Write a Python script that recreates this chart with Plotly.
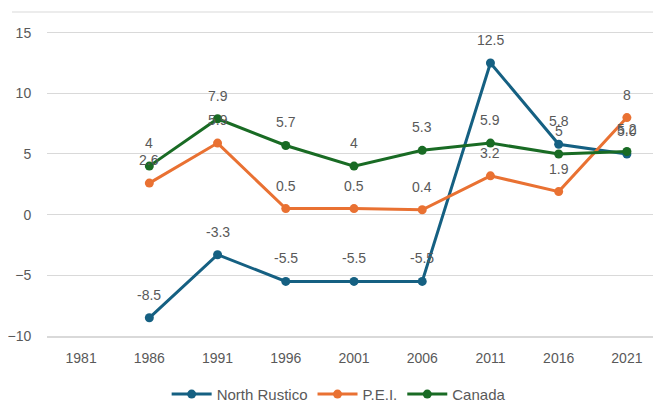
import plotly.graph_objects as go

years = ["1981", "1986", "1991", "1996", "2001", "2006", "2011", "2016", "2021"]
north_rustico = [None, -8.5, -3.3, -5.5, -5.5, -5.5, 12.5, 5.8, 5.0]
pei = [None, 2.6, 5.9, 0.5, 0.5, 0.4, 3.2, 1.9, 8]
canada = [None, 4, 7.9, 5.7, 4, 5.3, 5.9, 5, 5.2]
y_ticks = [-10, -5, 0, 5, 10, 15]

series = [
    ("North Rustico", north_rustico, "#156082", "{:.1f}"),
    ("P.E.I.", pei, "#E97132", "{:g}"),
    ("Canada", canada, "#196B24", "{:g}"),
]

FONT = "Liberation Sans"
GRAY = "#595959"
GRID = "#d9d9d9"

fig = go.Figure()
annotations = []
for name, vals, color, fmt in series:
    fig.add_trace(go.Scatter(
        x=years, y=vals, name=name, mode="lines+markers",
        line=dict(color=color, width=3),
        marker=dict(color=color, size=9),
        connectgaps=False,
    ))
    for i, v in enumerate(vals):
        if v is None:
            continue
        annotations.append(dict(
            x=i, y=v, xref="x", yref="y", text=fmt.format(v),
            showarrow=False, yshift=23,
            font=dict(family=FONT, size=14, color=GRAY),
        ))

# page body adds an 8px offset; figure sized so marks land at the reference's pixels
fig.update_layout(
    width=653, height=410,
    margin=dict(l=39, r=0, t=4, b=82, autoexpand=False),
    paper_bgcolor="white", plot_bgcolor="white",
    font=dict(family=FONT, size=14, color=GRAY),
    showlegend=True,
    legend=dict(orientation="h", x=0.475, xanchor="center", y=-0.18, yanchor="middle",
                itemwidth=40,
                font=dict(family=FONT, size=15, color=GRAY)),
    annotations=annotations,
    shapes=[dict(type="line", xref="paper", yref="paper", x0=-0.057, x1=1, y0=1, y1=1,
                 line=dict(color=GRID, width=1))],
)
fig.update_xaxes(type="category", range=[-0.5, 8.5], showgrid=False, automargin=False,
                 showline=True, linecolor=GRID, linewidth=1.5,
                 ticks="outside", ticklen=8, tickcolor="rgba(0,0,0,0)",
                 tickfont=dict(family=FONT, size=14, color=GRAY))
fig.update_yaxes(range=[-10, 16.7], tickvals=y_ticks, showgrid=True, gridcolor=GRID,
                 gridwidth=1, zeroline=False, showline=False, automargin=False,
                 ticks="outside", ticklen=12, tickcolor="rgba(0,0,0,0)",
                 tickfont=dict(family=FONT, size=14, color=GRAY))

fig.write_html("out.html")
